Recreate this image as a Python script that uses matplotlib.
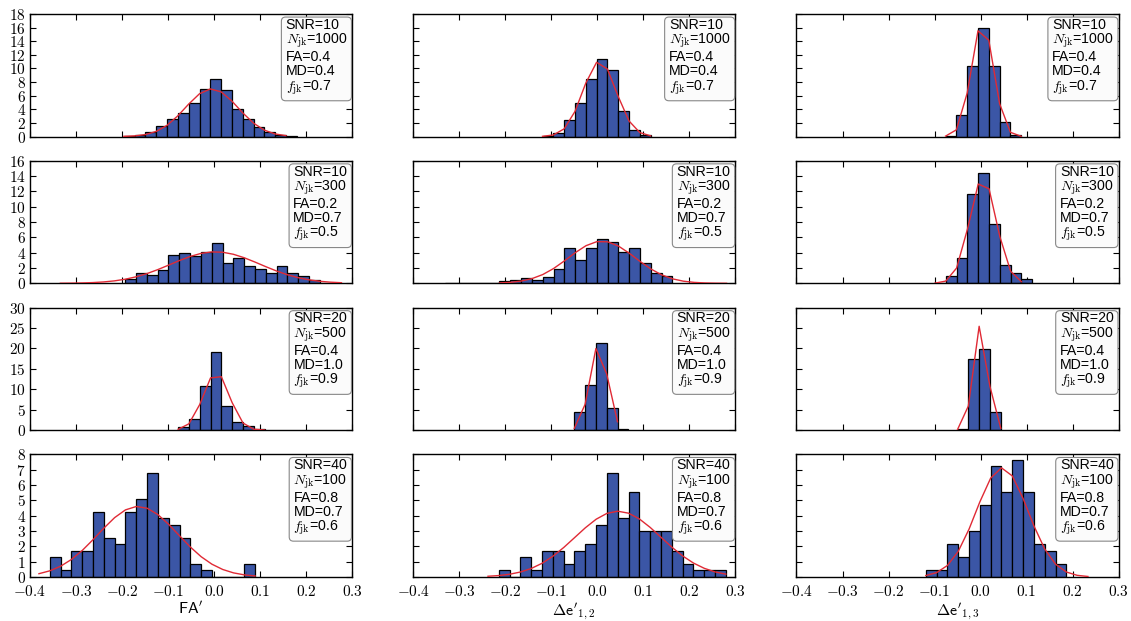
import matplotlib
matplotlib.use("Agg")
import matplotlib.pyplot as plt
import matplotlib.ticker as mticker
import numpy as np

plt.rcParams.update({
    "font.family": ["Liberation Sans", "DejaVu Sans"],
    "mathtext.fontset": "cm",
    "xtick.direction": "in",
    "ytick.direction": "in",
    "xtick.top": True,
    "ytick.right": True,
    "xtick.major.size": 4,
    "ytick.major.size": 4,
    "axes.linewidth": 1.0,
})

# run settings, one per row
snr = [10, 10, 20, 40]
n_jk = [1000, 300, 500, 100]
fa_true = [0.4, 0.2, 0.4, 0.8]
md_true = [0.4, 0.7, 1.0, 0.7]
f_jk = [0.7, 0.5, 0.9, 0.6]
row_ymax = [18, 16, 30, 8]
row_ystep = [2, 2, 5, 1]

bin_width = 0.0235

# normalised histogram heights (FA', de'_12, de'_13) for each row
fa_r1 = [0.05, 0.2, 0.7, 1.6, 2.5, 3.5, 4.9, 7.0, 8.4, 6.8, 4.0, 2.5, 1.4, 0.6, 0.2, 0.05]
e12_r1 = [0.1, 0.5, 2.4, 4.9, 8.4, 11.4, 9.8, 3.8, 0.9, 0.2]
e13_r1 = [0.1, 3.2, 10.4, 16.0, 10.4, 2.1, 0.2]

fa_r2 = [0.56, 1.3, 1.1, 1.7, 3.7, 4.0, 3.6, 4.1, 5.3, 2.7, 3.3, 2.2, 1.9, 1.4,
         2.2, 1.3, 0.9, 0.4, 0.1]
e12_r2 = [0.1, 0, 0, 0, 0, 0.35, 0.4, 0.7, 0.4, 0.85, 1.9, 4.6, 3.0, 4.6, 5.8,
          5.4, 4.1, 4.6, 2.6, 1.3, 1.0]
e13_r2 = [0.1, 0.9, 3.3, 11.6, 14.4, 7.8, 2.4, 1.3, 0.56]

fa_r3 = [0.8, 2.6, 10.9, 19.1, 5.8, 1.9, 1.0, 0.2]
e12_r3 = [4.5, 11.1, 21.4, 5.5, 0.3]
e13_r3 = [0.3, 17.5, 19.9, 4.5]

fa_r4 = [1.28, 0.43, 1.7, 1.7, 4.26, 2.55, 2.13, 4.26, 5.1, 6.8, 3.83, 3.4,
         2.55, 0.85, 0.43, 0, 0, 0, 0.85]
e12_r4 = [0.43, 0, 1.28, 0.43, 1.7, 1.7, 0.85, 1.7, 2.13, 3.4, 6.8, 3.83, 5.53,
          2.98, 2.98, 2.98, 1.7, 0.85, 0.43, 0.43, 0.43]
e13_r4 = [0.43, 0.43, 2.13, 1.28, 2.98, 4.68, 7.23, 5.53, 7.65, 5.53, 2.13, 1.7, 0.85]

# left edge of the first bin
first_edge = [[-0.196, -0.119, -0.076],
              [-0.193, -0.330, -0.099],
              [-0.078, -0.050, -0.050],
              [-0.357, -0.214, -0.119]]

# gaussian fit: mean, sigma, and x-range the fit is drawn over
fit_mu = [[-0.005, 0.005, 0.004],
          [0.003, 0.010, 0.005],
          [0.005, 0.003, 0.000],
          [-0.165, 0.045, 0.047]]
fit_sigma = [[0.057, 0.036, 0.0237],
             [0.097, 0.0725, 0.029],
             [0.0283, 0.019, 0.0154],
             [0.0867, 0.093, 0.056]]
fit_lo = [[-0.20, -0.12, -0.08],
          [-0.34, -0.22, -0.10],
          [-0.08, -0.05, -0.05],
          [-0.40, -0.26, -0.13]]
fit_hi = [[0.17, 0.12, 0.09],
          [0.30, 0.30, 0.10],
          [0.11, 0.05, 0.045],
          [0.09, 0.30, 0.25]]

heights = [[fa_r1, e12_r1, e13_r1],
           [fa_r2, e12_r2, e13_r2],
           [fa_r3, e12_r3, e13_r3],
           [fa_r4, e12_r4, e13_r4]]

xlabels = [r"$\mathsf{FA}'$", r"$\Delta\mathsf{e}'_{1,2}$", r"$\Delta\mathsf{e}'_{1,3}$"]
xticks = [-0.4, -0.3, -0.2, -0.1, 0.0, 0.1, 0.2, 0.3]

fig, axes = plt.subplots(4, 3, figsize=(11.31, 6.21), dpi=100, sharex=True)
fig.subplots_adjust(left=0.0265, right=0.989, bottom=0.071, top=0.9775,
                    wspace=0.19, hspace=0.198)

tex_fmt = mticker.FuncFormatter(lambda v, p: f"${v:g}$")
tex_fmt_x = mticker.FuncFormatter(lambda v, p: f"${v:.1f}$")

for r in range(4):
    for c in range(3):
        ax = axes[r, c]
        h = np.array(heights[r][c])
        edges = first_edge[r][c] + bin_width * np.arange(len(h))
        ax.bar(edges, h, width=bin_width, align="edge", color="#3b56a6",
               edgecolor="black", linewidth=0.9, zorder=2)

        # fit evaluated on the bin grid
        k0 = int(np.ceil((fit_lo[r][c] - first_edge[r][c]) / bin_width))
        k1 = int(np.floor((fit_hi[r][c] - first_edge[r][c]) / bin_width))
        xs = first_edge[r][c] + bin_width * np.arange(k0, k1 + 1)
        mu, sg = fit_mu[r][c], fit_sigma[r][c]
        ys = np.exp(-0.5 * ((xs - mu) / sg) ** 2) / (sg * np.sqrt(2 * np.pi))
        ax.plot(xs, ys, color="#e02a35", linewidth=1.0, zorder=3)

        ax.set_xlim(-0.4, 0.3)
        ax.set_ylim(0, row_ymax[r])
        ax.set_xticks(xticks)
        ax.yaxis.set_major_locator(mticker.MultipleLocator(row_ystep[r]))
        ax.tick_params(axis="y", labelsize=11, pad=3)
        ax.tick_params(axis="x", labelsize=11, pad=5)
        ax.yaxis.set_major_formatter(tex_fmt)
        ax.xaxis.set_major_formatter(tex_fmt_x)
        if c > 0:
            ax.tick_params(labelleft=False)
        if r == 3:
            ax.set_xlabel(xlabels[c], fontsize=11.5, labelpad=1)

        info = (f"SNR={snr[r]}\n$N_{{\\rm jk}}$={n_jk[r]}\nFA={fa_true[r]}\n"
                f"MD={md_true[r]}\n$f_{{\\rm jk}}$={f_jk[r]}")
        ax.text(0.985, 0.968, info, transform=ax.transAxes, ha="right", va="top",
                multialignment="left", fontsize=10.2, linespacing=1.0, zorder=5,
                bbox=dict(boxstyle="round,pad=0.3", facecolor="#fbfbfb",
                          edgecolor="#888888", linewidth=0.8))

fig.savefig("out.png", dpi=100)
